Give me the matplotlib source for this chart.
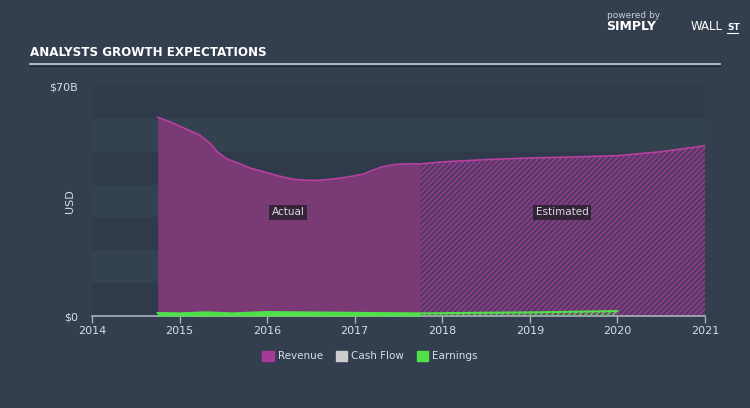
import numpy as np
import matplotlib.pyplot as plt
from matplotlib.patches import Patch

# revenue (USD billions)
rev_actual_x = [2014.75, 2014.9, 2015.05, 2015.23, 2015.35, 2015.43, 2015.54, 2015.7, 2015.81,
                2016.0, 2016.15, 2016.3, 2016.45, 2016.6, 2016.75, 2016.9, 2017.1, 2017.2,
                2017.3, 2017.45, 2017.6, 2017.75]
rev_actual_y = [60.5, 59.0, 57.2, 55.1, 52.5, 50.0, 47.8, 46.2, 45.0,
                43.6, 42.5, 41.6, 41.3, 41.3, 41.7, 42.2, 43.2, 44.3,
                45.3, 46.1, 46.3, 46.3]
rev_est_x = [2017.75, 2018.0, 2018.5, 2019.0, 2019.5, 2020.0, 2020.5, 2021.0]
rev_est_y = [46.3, 46.9, 47.6, 48.1, 48.4, 48.8, 50.0, 51.8]

earn_actual_x = [2014.75, 2015.0, 2015.3, 2015.6, 2016.0, 2016.4, 2016.8, 2017.2, 2017.75]
earn_actual_y = [0.9, 0.8, 1.1, 0.8, 1.2, 1.1, 1.0, 0.9, 0.8]
earn_est_x = [2017.75, 2018.5, 2019.0, 2019.5, 2020.0]
earn_est_y = [0.8, 1.0, 1.1, 1.3, 1.5]

years = [2014, 2015, 2016, 2017, 2018, 2019, 2020, 2021]

BG = '#333f4e'
REV_FILL = '#7a3a75'
REV_LINE = '#b8409f'
GREEN = '#4fe04a'
TXT = '#d8dde3'

plt.rcParams['font.family'] = ['DejaVu Sans']
plt.rcParams['hatch.linewidth'] = 1.0

fig = plt.figure(figsize=(7.5, 4.08), dpi=100, facecolor=BG)
ax = fig.add_axes([92 / 750, 1 - 316 / 408, (705 - 92) / 750, (316 - 86) / 408])
ax.set_facecolor(BG)

# banded background
for i in range(7):
    c = '#2f3b4a' if i % 2 == 0 else '#34414f'
    ax.axhspan(70 - (i + 1) * 10, 70 - i * 10, color=c, lw=0, zorder=0)

ax.fill_between(rev_actual_x, rev_actual_y, 0, color=REV_FILL, lw=0, zorder=2)
ax.fill_between(rev_est_x, rev_est_y, 0, facecolor='#873a83', edgecolor='#3e3a5a',
                hatch='//////', lw=0, zorder=2)
ax.plot(rev_actual_x + rev_est_x[1:], rev_actual_y + rev_est_y[1:], color=REV_LINE, lw=1.2, zorder=3)

ax.fill_between(earn_actual_x, earn_actual_y, 0, color=GREEN, lw=0, zorder=4)
ax.fill_between(earn_est_x, earn_est_y, 0, facecolor='none', edgecolor=GREEN,
                hatch='//////', lw=0, zorder=4)
ax.plot(earn_actual_x + earn_est_x[1:], earn_actual_y + earn_est_y[1:], color=GREEN, lw=1.5, zorder=5)

box = dict(boxstyle='square,pad=0.25', fc='#2a1f2e', ec='none', alpha=0.85)
ax.text(2016.24, 31.6, 'Actual', color=TXT, fontsize=7.5, ha='center', va='center', bbox=box, zorder=6)
ax.text(2019.37, 31.6, 'Estimated', color=TXT, fontsize=7.5, ha='center', va='center', bbox=box, zorder=6)

ax.set_xlim(2014, 2021)
ax.set_ylim(0, 70)
ax.set_xticks(years)
ax.set_xticklabels([str(y) for y in years])
ax.set_yticks([0, 70])
ax.set_yticklabels(['$0', '$70B'])
ax.tick_params(axis='x', colors='#a9b3bd', labelcolor=TXT, labelsize=8, length=5, width=1, pad=2)
ax.tick_params(axis='y', length=0, labelcolor=TXT, labelsize=8, pad=10)
for s in ['top', 'right', 'left']:
    ax.spines[s].set_visible(False)
ax.spines['bottom'].set_color('#a9b3bd')
ax.spines['bottom'].set_linewidth(1.2)
ax.set_ylabel('USD', color=TXT, fontsize=8, labelpad=4)
ax.yaxis.set_label_coords(-0.028, 0.5)

# title + rule
fig.text(30 / 750, 1 - 53 / 408, 'ANALYSTS GROWTH EXPECTATIONS', color='white', fontsize=9.5,
         fontweight='bold', va='center', fontstretch='condensed')
fig.add_artist(plt.Line2D([30 / 750, 720 / 750], [1 - 63.5 / 408] * 2, color='#c7ced6', lw=1.2))
fig.add_artist(plt.Line2D([30 / 750, 720 / 750], [1 - 65.5 / 408] * 2, color='#1e2833', lw=0.8))

# logo text
fig.text(607 / 750, 1 - 15 / 408, 'powered by', color='#c9cfd6', fontsize=6.5, va='center')
fig.text(606 / 750, 1 - 27 / 408, 'SIMPLY', color='white', fontsize=9, fontweight='bold', va='center')
fig.text(691 / 750, 1 - 27 / 408, 'WALL', color='white', fontsize=8.5, va='center')
fig.text(727 / 750, 1 - 27 / 408, 'ST', color='white', fontsize=6.5, fontweight='bold', va='center')
fig.add_artist(plt.Line2D([727 / 750, 738 / 750], [1 - 32.5 / 408] * 2, color='white', lw=0.8))

handles = [Patch(color='#a63a96', label='Revenue'),
           Patch(color='#cccccc', label='Cash Flow'),
           Patch(color=GREEN, label='Earnings')]
fig.legend(handles=handles, loc='center', bbox_to_anchor=(370 / 750, 1 - 356 / 408), ncol=3,
           frameon=False, fontsize=7.5, labelcolor=TXT, handlelength=1.1, handleheight=1.1,
           columnspacing=1.2, handletextpad=0.4)

fig.savefig('out.png', dpi=100, facecolor=BG)
